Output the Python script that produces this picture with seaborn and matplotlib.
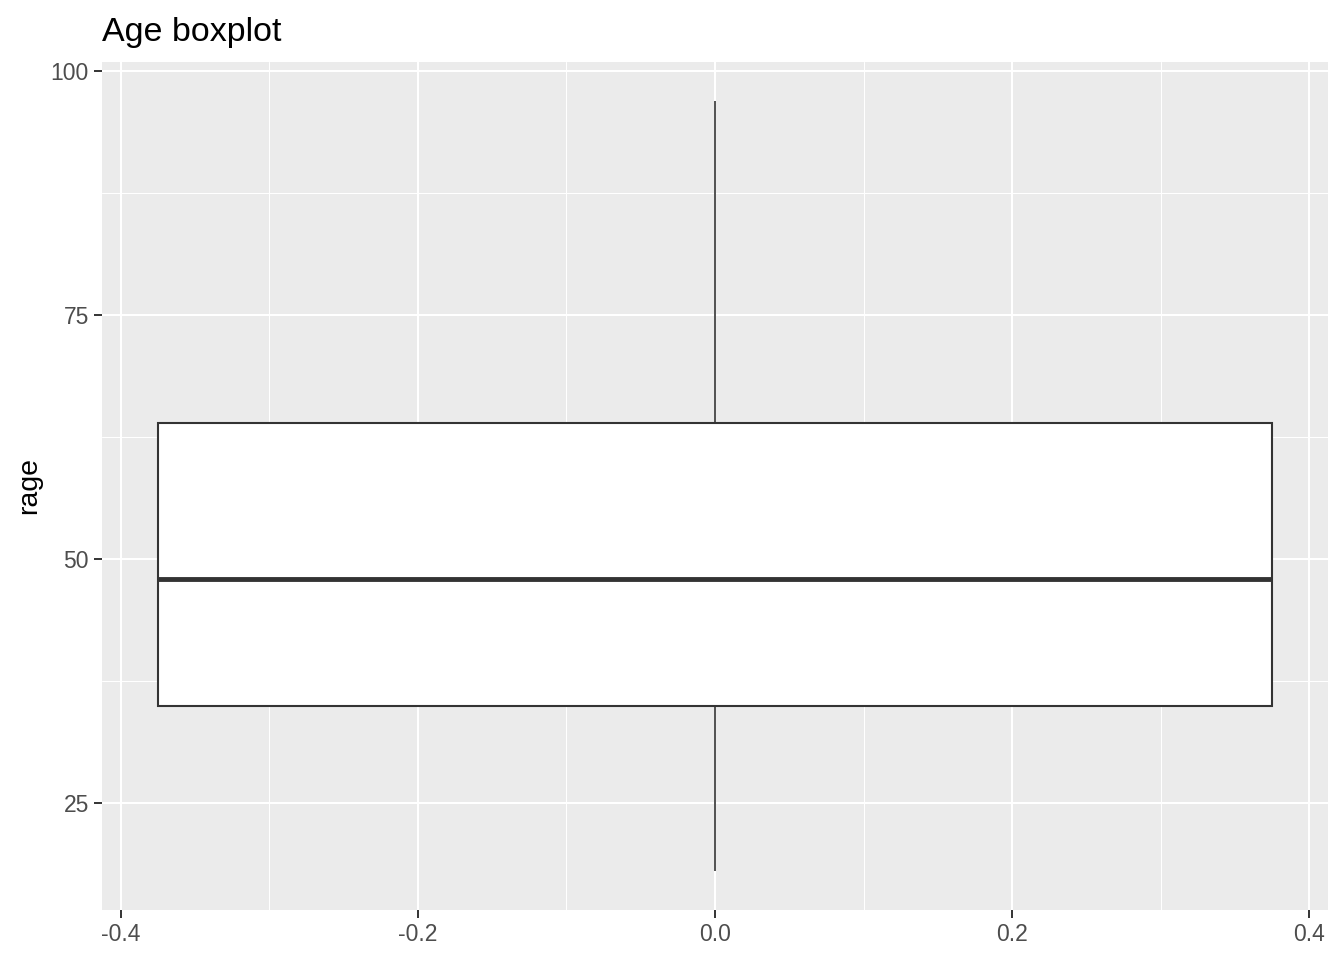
import matplotlib
matplotlib.use('Agg')
import matplotlib.pyplot as plt
import seaborn as sns
import numpy as np
import pandas as pd

# five-number summary (min, q1, median, q3, max)
rage = [18, 35, 48, 64, 97]
x_ticks = [-0.4, -0.2, 0.0, 0.2, 0.4]
x_minor = [-0.3, -0.1, 0.1, 0.3]
y_ticks = [25, 50, 75, 100]
y_minor = [37.5, 62.5, 87.5]

df = pd.DataFrame({'rage': rage})

sns.set_theme(style='darkgrid')
plt.rcParams['font.family'] = ['Liberation Sans', 'DejaVu Sans']

fig = plt.figure(figsize=(13.44, 9.6), dpi=100)
ax = fig.add_axes([102 / 1344, 1 - 910 / 960, (1328 - 102) / 1344, (910 - 62) / 960])

sns.boxplot(data=df, y='rage', ax=ax, width=0.75, color='white',
            linecolor='#333333', linewidth=1.5, showcaps=False,
            medianprops={'linewidth': 3.5, 'color': '#333333'},
            whiskerprops={'linewidth': 1.2})

ax.set_facecolor('#EBEBEB')
ax.set_xlim(-0.4125, 0.4125)
ax.set_ylim(14.05, 100.95)
ax.set_xticks(x_ticks)
ax.set_xticklabels(['-0.4', '-0.2', '0.0', '0.2', '0.4'])
ax.set_xticks(x_minor, minor=True)
ax.set_yticks(y_ticks)
ax.set_yticks(y_minor, minor=True)
ax.grid(which='major', color='white', linewidth=1.5)
ax.grid(which='minor', color='white', linewidth=0.75)
ax.set_axisbelow(True)
for s in ax.spines.values():
    s.set_visible(False)
ax.tick_params(which='major', bottom=True, left=True, length=5.5, width=1.4,
               color='#333333', labelsize=16.5, labelcolor='#4D4D4D', pad=4)
ax.tick_params(which='minor', bottom=False, left=False, length=0)
ax.set_xlabel('')
ax.set_ylabel('rage', fontsize=20.5, color='black', labelpad=6)
ax.set_title('Age boxplot', loc='left', fontsize=24.5, color='black', pad=15)

fig.savefig('out.png', dpi=100)
